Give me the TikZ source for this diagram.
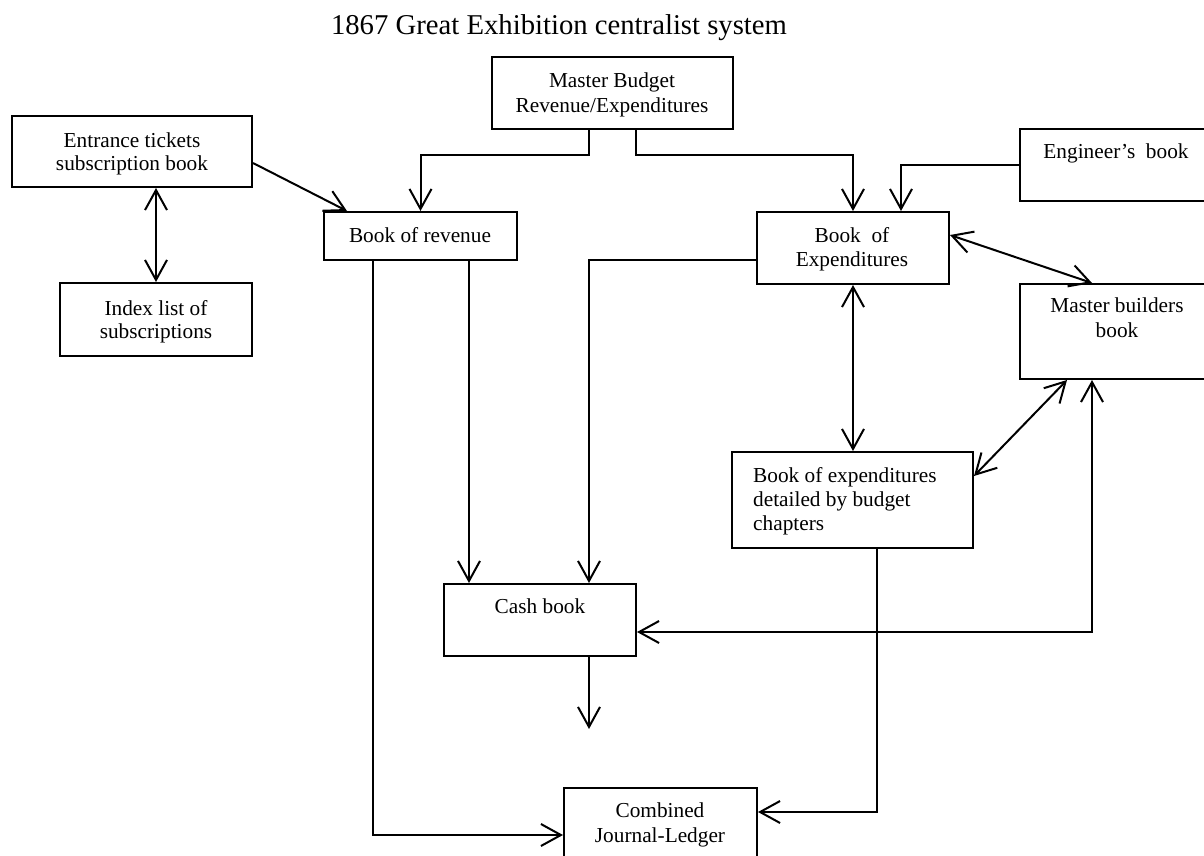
\documentclass[tikz,border=0pt]{standalone}
\usepackage{fontspec}
\setmainfont{Liberation Serif}
\usetikzlibrary{arrows.meta,calc}
\tikzset{
  box/.style={draw, line width=2pt, rectangle, inner sep=0pt},
  txt/.style={inner sep=0pt, anchor=base, align=center, font=\fontsize{21.3}{24.5}\selectfont},
  tip/.style={line width=2pt, -{Straight Barb[length=20pt,width=22pt]}},
  dbl/.style={line width=2pt, {Straight Barb[length=20pt,width=22pt]}-{Straight Barb[length=20pt,width=22pt]}},
  ln/.style={line width=2pt}
}
\newcommand{\mkbox}[5]{\node[box, minimum width=#4-#2, minimum height=#5-#3] (#1) at ({(#2+#4)/2},{(#3+#5)/2}) {};}
\begin{document}
\begin{tikzpicture}[x=1pt,y=-1pt]
\clip (0,0) rectangle (1204,855);
\fill[white] (0,0) rectangle (1204,855);
% title
\node[inner sep=0pt, anchor=base, font=\fontsize{28.7}{32}\selectfont] (title) at (559,34) {1867 Great Exhibition centralist system};
% boxes
\mkbox{mb}{492}{57}{733}{129}
\mkbox{ent}{12}{116}{252}{187}
\mkbox{idx}{60}{283}{252}{356}
\mkbox{rev}{324}{212}{517}{260}
\mkbox{eng}{1020}{129}{1240}{201}
\mkbox{exp}{757}{212}{949}{284}
\mkbox{mbb}{1020}{284}{1240}{379}
\mkbox{det}{732}{452}{973}{548}
\mkbox{cash}{444}{584}{636}{656}
\mkbox{comb}{564}{788}{757}{882}
% texts (anchor base = baseline of last line)
\node[txt] (mbT) at (612,112) {Master Budget\\[0.5pt]Revenue/Expenditures};
\node[txt, font=\fontsize{21.3}{23}\selectfont] (entT) at (132,170) {Entrance tickets\\subscription book};
\node[txt, font=\fontsize{21.3}{23}\selectfont] (idxT) at (156,338) {Index list of\\subscriptions};
\node[txt] (revT) at (420,242) {Book of revenue};
\node[txt] (engT) at (1116,158) {Engineer’s\ \ book};
\node[txt] (expT) at (852,266) {Book\ \ of\\[-0.5pt]Expenditures};
\node[txt] (mbbT) at (1117,337) {Master builders\\book};
\node[txt, align=left, anchor=base west, font=\fontsize{21.3}{24}\selectfont] (detT) at (753,530) {Book of expenditures\\detailed by budget\\chapters};
\node[txt] (cashT) at (540,613) {Cash book};
\node[txt] (combT) at (660,842) {Combined\\Journal-Ledger};
% connectors
\draw[dbl] (idx.north) -- (idx.north |- ent.south);
\draw[tip] ([yshift=-11.5pt]ent.east) -- ([xshift=24pt]rev.north west);
\draw[tip] ([xshift=-23.5pt]mb.south) -- ++(0,25) -| (rev.north);
\draw[tip] ([xshift=23.5pt]mb.south) -- ++(0,25) -| (exp.north);
\draw[tip] (eng.west) -| ([xshift=48pt]exp.north);
\draw[dbl] ([yshift=13pt]exp.east) -- ([xshift=73pt]mbb.north west);
\draw[dbl] (exp.south) -- (exp.south |- det.north);
\draw[dbl] ([xshift=48pt]mbb.south west) -- ([yshift=24pt]det.east);
\draw[dbl] ([xshift=73pt]mbb.south west) |- ([yshift=-12pt]cash.east);
\draw[tip] ([xshift=48.5pt]rev.south) -- ([xshift=48.5pt]rev.south |- cash.north);
\draw[tip] ([xshift=-47.5pt]rev.south) |- (comb.west);
\draw[tip] ([yshift=-12pt]exp.west) -| ([xshift=49pt]cash.north);
\coordinate (cashout) at (589,729);
\draw[tip] (cashout |- cash.south) -- (cashout);
\draw[tip] ([xshift=24.5pt]det.south) |- ([yshift=23pt]comb.east);
\end{tikzpicture}
\end{document}
